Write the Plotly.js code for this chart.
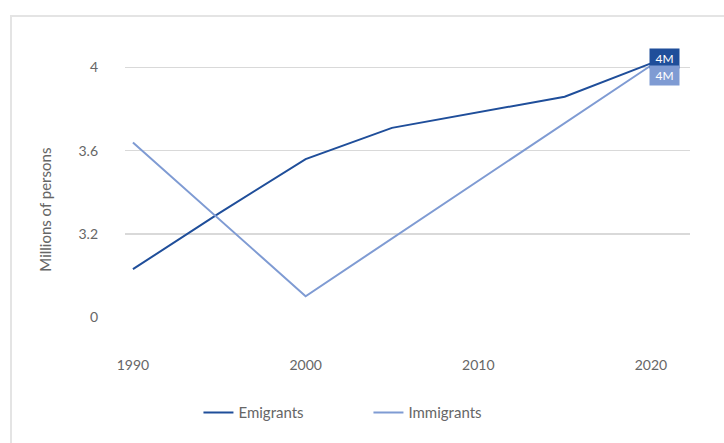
<!DOCTYPE html>
<html>
<head>
<meta charset="utf-8">
<script src="https://cdn.plot.ly/plotly-3.0.1.min.js"></script>
<style>
  html, body { margin: 0; padding: 0; background: #ffffff; }
  #frame {
    position: absolute; left: 10px; top: 15px; width: 760px; height: 480px;
    border-left: 2px solid #e4e4e4; border-top: 2px solid #e4e4e4;
  }
  #chart { position: absolute; left: 0; top: 0; width: 724px; height: 443px; }
</style>
</head>
<body>
<div id="frame"></div>
<div id="chart"></div>
<script>
// Population flows, millions of persons
const emigrantYears = [1990, 1995, 2000, 2005, 2015, 2020];
const emigrants     = [3.03, 3.30, 3.56, 3.71, 3.86, 4.02];
const immigrantYears = [1990, 2000, 2020];
const immigrants     = [3.64, 2.90, 4.01];

// The value axis is broken: its lowest gridline is labelled 0
const yTickVals = [2.8, 3.2, 3.6, 4.0];
const yTickText = ['0', '3.2', '3.6', '4'];
const xTickVals = [1990, 2000, 2010, 2020];
const xTickText = ['1990', '2000', '2010', '2020'];

const darkBlue = '#1f4e9a';
const lightBlue = '#7f9bd3';
const textGrey = '#666666';
const fontFamily = 'Lato, "Open Sans", sans-serif';

const data = [
  {
    type: 'scatter', mode: 'lines', name: 'Emigrants',
    x: emigrantYears, y: emigrants,
    line: { color: darkBlue, width: 2 }
  },
  {
    type: 'scatter', mode: 'lines', name: 'Immigrants',
    x: immigrantYears, y: immigrants,
    line: { color: lightBlue, width: 2 }
  }
];

const lastE = emigrants[emigrants.length - 1];
const lastI = immigrants[immigrants.length - 1];
const fmtM = v => Math.round(v) + 'M';

const layout = {
  width: 724, height: 443,
  margin: { l: 125, r: 34, t: 26, b: 126 },
  paper_bgcolor: 'rgba(0,0,0,0)',
  plot_bgcolor: 'rgba(0,0,0,0)',
  font: { family: fontFamily, size: 14, color: textGrey },
  showlegend: true,
  legend: {
    orientation: 'h', x: 0.13, xanchor: 'left', y: -0.329, yanchor: 'middle',
    entrywidth: 125, entrywidthmode: 'pixels',
    font: { family: fontFamily, size: 15, color: textGrey }
  },
  xaxis: {
    range: [1989.54, 2022.26],
    tickvals: xTickVals, ticktext: xTickText,
    showgrid: false, zeroline: false, showline: false,
    ticks: '', ticklabelstandoff: 38,
    tickfont: { family: fontFamily, size: 14, color: textGrey }
  },
  yaxis: {
    range: [2.8, 4.2],
    tickvals: yTickVals, ticktext: yTickText,
    showgrid: true, gridcolor: '#d9d9d9', gridwidth: 1.5,
    zeroline: false, showline: false, ticks: '',
    ticklabelstandoff: 26,
    tickfont: { family: fontFamily, size: 14, color: textGrey }
  },
  annotations: [
    {
      xref: 'paper', yref: 'paper', x: -0.142, y: 0.368,
      xanchor: 'center', yanchor: 'middle',
      text: 'Millions of persons', textangle: -90, showarrow: false,
      font: { family: fontFamily, size: 15, color: textGrey }
    },
    {
      x: 2020, y: lastE, xanchor: 'left', yanchor: 'bottom',
      text: fmtM(lastE), showarrow: false, xshift: -2, yshift: -6,
      width: 25, bgcolor: darkBlue, borderpad: 2,
      font: { family: fontFamily, size: 12, color: '#ffffff' }
    },
    {
      x: 2020, y: lastI, xanchor: 'left', yanchor: 'top',
      text: fmtM(lastI), showarrow: false, xshift: -2, yshift: 0,
      width: 25, bgcolor: lightBlue, borderpad: 2,
      font: { family: fontFamily, size: 12, color: '#ffffff' }
    }
  ]
};

Plotly.newPlot('chart', data, layout, { displayModeBar: false, staticPlot: true });
</script>
</body>
</html>
